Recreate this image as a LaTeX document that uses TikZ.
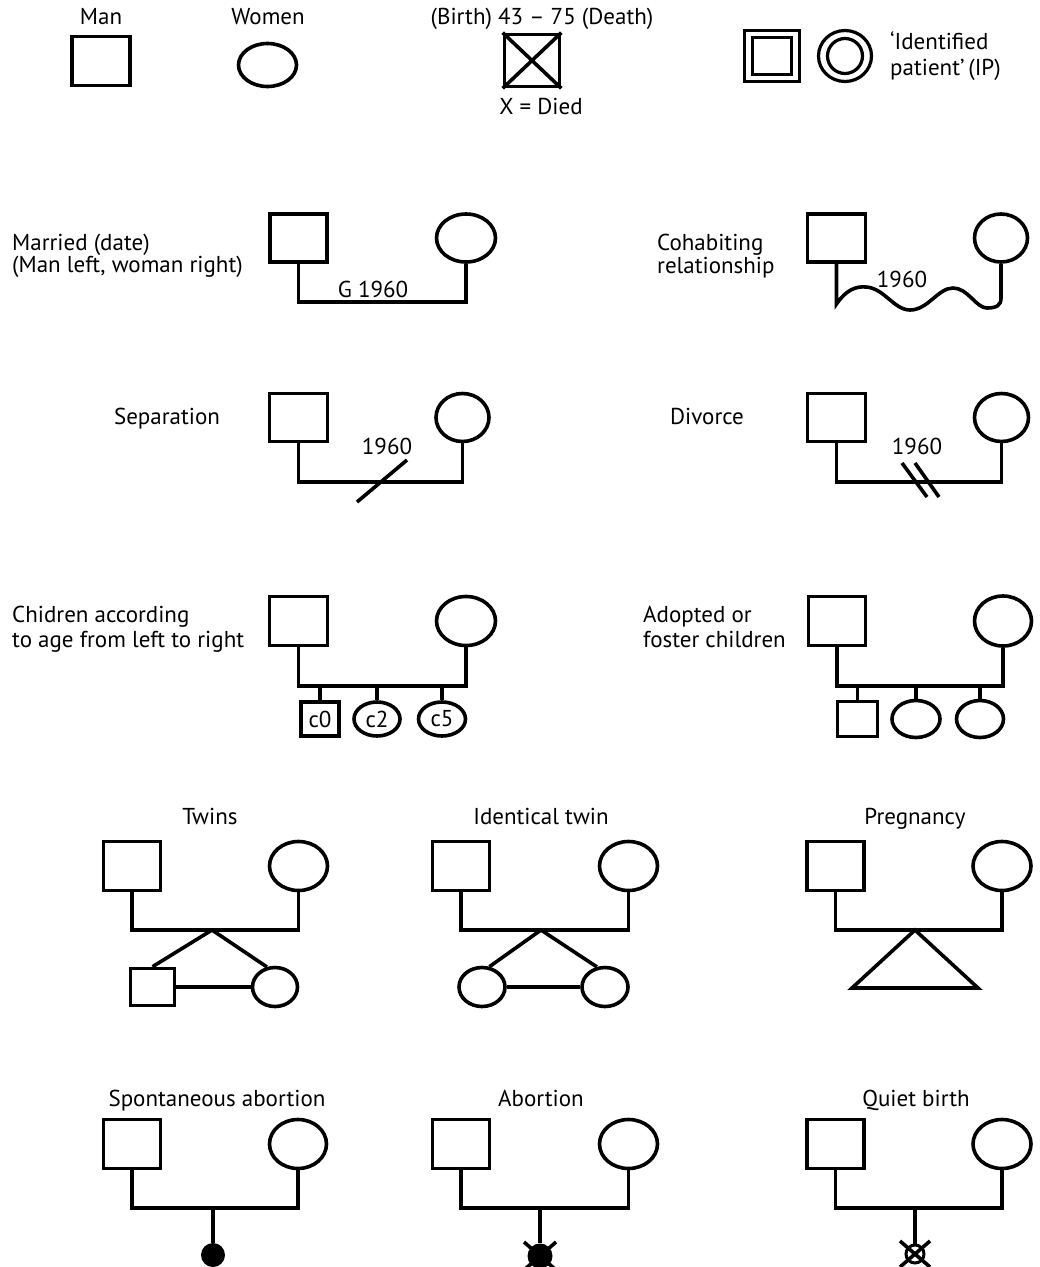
\documentclass[tikz,border=0pt]{standalone}
\usepackage{fontspec}
\setmainfont{PT Sans}
\usetikzlibrary{shapes.geometric}
\begin{document}
\begin{tikzpicture}[x=1pt,y=-1pt,
  lw/.style={line width=3.6pt},
  man/.style={draw,rectangle,lw,inner sep=0pt,minimum width=57pt,minimum height=48pt},
  woman/.style={draw,ellipse,lw,inner sep=0pt,minimum width=57pt,minimum height=48pt},
  txt/.style={font=\fontsize{23}{27}\selectfont,inner sep=0pt},
  link/.style={lw,line join=miter}]
\fill[white] (0,0) rectangle (1040,1267);
\useasboundingbox (0,0) rectangle (1040,1267);

% ---------- legend row ----------
\node[txt,anchor=base] (t_man) at (101,24) {Man};
\node[man,minimum width=58pt,minimum height=49pt] (man) at (101,61) {};
\node[txt,anchor=base] (t_wom) at (268,24) {Women};
\node[woman,minimum width=58pt,minimum height=43pt] (wom) at (267.5,65) {};
\node[txt,anchor=base] (t_bd) at (542,24) {(Birth) 43 – 75 (Death)};
\node[man,minimum width=55pt,minimum height=52pt] (died) at (532,60.5) {};
\draw[lw] (died.north west) -- (died.south east) (died.north east) -- (died.south west);
\node[txt,anchor=base] (t_x) at (541,114) {X = Died};
\node[man,line width=3.2pt,minimum width=55pt,minimum height=51pt] (ipm) at (772,56) {};
\node[man,line width=3.2pt,minimum width=39pt,minimum height=37pt] (ipm2) at (772,56) {};
\node[woman,line width=3.2pt,minimum width=53pt,minimum height=51pt] (ipw) at (845,56) {};
\node[woman,line width=3.2pt,minimum width=35pt,minimum height=35pt] (ipw2) at (845,56) {};
\node[txt,anchor=base west] (t_ip1) at (890,49) {‘Identified};
\node[txt,anchor=base west] (t_ip2) at (890,75) {patient’\,(IP)};

% ---------- married ----------
\node[txt,anchor=base west] (t_mar1) at (12,250) {Married (date)};
\node[txt,anchor=base west] (t_mar2) at (12,272) {(Man left, woman right)};
\node[man] (m_mar) at (298.5,238) {};
\node[woman,minimum width=59pt] (w_mar) at (466,238) {};
\coordinate (j_mar) at (380,302);
\draw[link] (m_mar.south) |- (j_mar) -| (w_mar.south);
\node[txt,anchor=base] (t_g) at (373,297) {G 1960};

% ---------- cohabiting ----------
\node[txt,anchor=base west] (t_coh1) at (657,250) {Cohabiting};
\node[txt,anchor=base west] (t_coh2) at (657,273) {relationship};
\node[man,minimum width=58pt] (m_coh) at (836.5,238) {};
\node[woman,minimum width=53pt] (w_coh) at (1001,238) {};
\coordinate (coh_s) at (836.5,304);
\coordinate (coh_e) at (1001,298);
\draw[link] (m_coh.south) -- (coh_s)
  .. controls (846,290) and (856,286) .. (866,287)
  .. controls (884,288) and (894,310) .. (910,310)
  .. controls (928,310) and (938,288) .. (953,288)
  .. controls (968,288) and (976,308) .. (987,308)
  .. controls (997,308) and (1001,305) .. (coh_e)
  -- (w_coh.south);
\node[txt,anchor=base] (t_coh) at (902,287) {1960};

% ---------- separation ----------
\node[txt,anchor=base] (t_sep) at (167,424) {Separation};
\node[man,minimum width=58pt] (m_sep) at (298.5,417.5) {};
\node[woman,minimum width=53pt] (w_sep) at (462.5,417.5) {};
\coordinate (j_sep) at (381,482);
\draw[link] (m_sep.south) |- (j_sep) -| (w_sep.south);
\draw[lw] (j_sep) ++(-24,20) -- ++(50,-42);
\node[txt,anchor=base] (t_sep2) at (387,454) {1960};

% ---------- divorce ----------
\node[txt,anchor=base] (t_div) at (707,424) {Divorce};
\node[man,minimum width=58pt] (m_div) at (836.5,417.5) {};
\node[woman,minimum width=54pt] (w_div) at (1001.5,417.5) {};
\coordinate (j_div) at (920,482);
\draw[link] (m_div.south) |- (j_div) -| (w_div.south);
\draw[lw] (j_div) ++(-18,-19) -- ++(25,34);
\draw[lw] (j_div) ++(-5,-19) -- ++(24,34);
\node[txt,anchor=base] (t_div2) at (917,454) {1960};

% ---------- children ----------
\node[txt,anchor=base west] (t_ch1) at (12,622) {Chidren according};
\node[txt,anchor=base west] (t_ch2) at (12,647) {to age from left to right};
\node[man,minimum width=58pt,minimum height=49pt] (m_ch) at (298.5,621) {};
\node[woman,minimum width=59pt,minimum height=49pt] (w_ch) at (466,621) {};
\coordinate (j_ch) at (380,686);
\draw[link] (m_ch.south) |- (j_ch) -| (w_ch.south);
\node[man,minimum width=38pt,minimum height=34pt,txt,lw] (c0) at (320,719) {c0};
\node[woman,minimum width=46pt,minimum height=34pt,txt,lw] (c2) at (377,719) {c2};
\node[woman,minimum width=47pt,minimum height=34pt,txt,lw] (c5) at (442,719) {c5};
\foreach \c in {c0,c2,c5} \draw[link] (\c.north) -- (\c.north |- j_ch);

% ---------- adopted ----------
\node[txt,anchor=base west] (t_ad1) at (643,622) {Adopted or};
\node[txt,anchor=base west] (t_ad2) at (643,647) {foster children};
\node[man,minimum width=57pt,minimum height=49pt] (m_ad) at (837,621) {};
\node[woman,minimum width=57pt,minimum height=50pt] (w_ad) at (1003,621) {};
\coordinate (j_ad) at (920,686);
\draw[link] (m_ad.south) |- (j_ad) -| (w_ad.south);
\node[man,minimum width=40pt,minimum height=35pt] (a1) at (857.5,719) {};
\node[woman,minimum width=48pt,minimum height=37pt] (a2) at (916,719) {};
\node[woman,minimum width=47pt,minimum height=37pt] (a3) at (980,719) {};
\foreach \c in {a1,a2,a3} \draw[link] (\c.north) -- (\c.north |- j_ad);

% ---------- twins ----------
\node[txt,anchor=base] (t_tw) at (210,824) {Twins};
\node[man,minimum height=49pt] (m_tw) at (132,866) {};
\node[woman,minimum width=58pt,minimum height=49pt] (w_tw) at (298.5,866) {};
\coordinate (j_tw) at (212,930);
\draw[link] (m_tw.south) |- (j_tw) -| (w_tw.south);
\node[man,minimum width=44pt,minimum height=37pt] (tw1) at (152.5,987) {};
\node[woman,minimum width=45pt,minimum height=39pt] (tw2) at (275,987) {};
\draw[link] (tw1.north) -- (j_tw) -- (tw2.112);
\draw[link] (tw1.east) -- (tw2.west);

% ---------- identical twin ----------
\node[txt,anchor=base] (t_id) at (541,824) {Identical twin};
\node[man,minimum height=49pt] (m_id) at (461,866) {};
\node[woman,minimum width=58pt,minimum height=49pt] (w_id) at (628.5,866) {};
\coordinate (j_id) at (541,930);
\draw[link] (m_id.south) |- (j_id) -| (w_id.south);
\node[woman,minimum width=46pt,minimum height=39pt] (id1) at (482,987) {};
\node[woman,minimum width=46pt,minimum height=39pt] (id2) at (605,987) {};
\draw[link] (id1.70) -- (j_id) -- (id2.112);
\draw[link] (id1.east) -- (id2.west);

% ---------- pregnancy ----------
\node[txt,anchor=base] (t_pr) at (915,824) {Pregnancy};
\node[man,minimum height=49pt] (m_pr) at (835.5,866) {};
\node[woman,minimum width=58pt,minimum height=49pt] (w_pr) at (1002,866) {};
\coordinate (j_pr) at (915,930);
\draw[link] (m_pr.south) |- (j_pr) -| (w_pr.south);
\coordinate (pr_l) at (852,988);
\coordinate (pr_r) at (978,988);
\draw[link] (j_pr) -- (pr_l) -- (pr_r) -- cycle;

% ---------- spontaneous abortion ----------
\node[txt,anchor=base] (t_sa) at (217,1106) {Spontaneous abortion};
\node[man,minimum height=49pt] (m_sa) at (132,1144) {};
\node[woman,minimum height=49pt] (w_sa) at (298,1144) {};
\coordinate (j_sa) at (213,1208);
\draw[link] (m_sa.south) |- (j_sa) -| (w_sa.south);
\node[circle,fill=black,inner sep=0pt,minimum size=24pt] (sa) at (213,1255) {};
\draw[link] (j_sa) -- (sa.north);

% ---------- abortion ----------
\node[txt,anchor=base] (t_ab) at (541,1106) {Abortion};
\node[man,minimum height=49pt] (m_ab) at (461,1144) {};
\node[woman,minimum width=58pt,minimum height=49pt] (w_ab) at (628.5,1144) {};
\coordinate (j_ab) at (540,1208);
\draw[link] (m_ab.south) |- (j_ab) -| (w_ab.south);
\node[circle,fill=black,inner sep=0pt,minimum size=25pt] (ab) at (540,1256) {};
\draw[link] (j_ab) -- (ab.north);
\draw[lw] (ab.center) ++(-16,-14) -- ++(32,28) (ab.center) ++(16,-14) -- ++(-32,28);

% ---------- quiet birth ----------
\node[txt,anchor=base] (t_qb) at (916,1106) {Quiet birth};
\node[man,minimum height=49pt] (m_qb) at (835.5,1144) {};
\node[woman,minimum width=58pt,minimum height=49pt] (w_qb) at (1002,1144) {};
\coordinate (j_qb) at (915,1208);
\draw[link] (m_qb.south) |- (j_qb) -| (w_qb.south);
\node[circle,draw,line width=3pt,inner sep=0pt,minimum size=18pt] (qb) at (915,1254) {};
\draw[link] (j_qb) -- (qb.north);
\draw[lw] (qb.center) ++(-15,-13) -- ++(30,26) (qb.center) ++(15,-13) -- ++(-30,26);
\end{tikzpicture}
\end{document}
